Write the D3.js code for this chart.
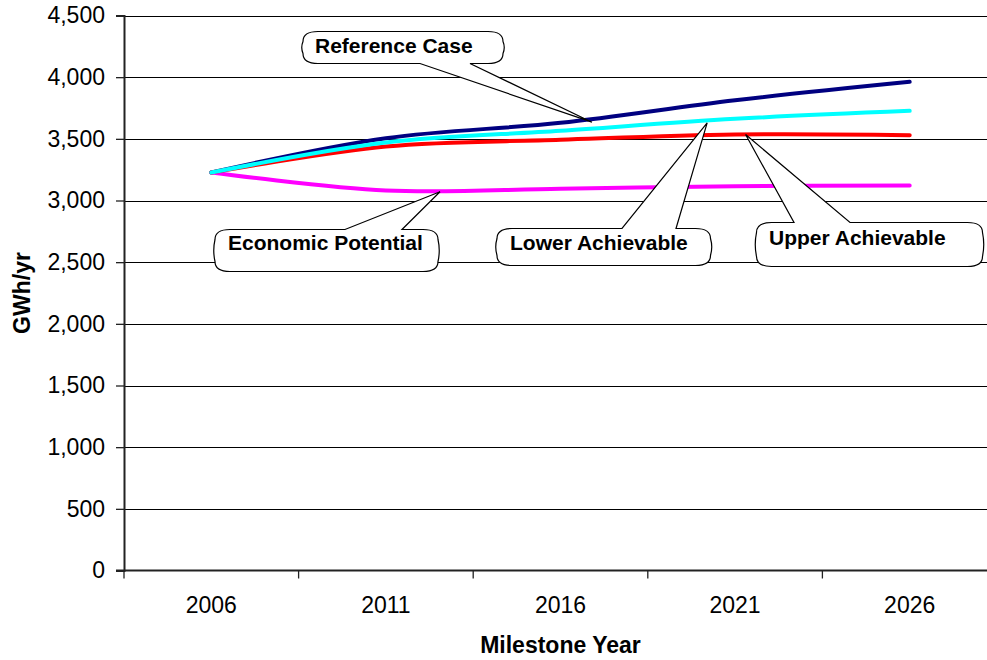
<!DOCTYPE html>
<html>
<head>
<meta charset="utf-8">
<script src="https://cdn.jsdelivr.net/npm/d3@7"></script>
<style>
  html, body { margin: 0; padding: 0; background: #fff; }
  svg { display: block; font-family: "Liberation Sans", Arial, sans-serif; }
</style>
</head>
<body>
<svg id="chart" width="987" height="660"></svg>
<script>
// ---- data ----
const categories = ["2006", "2011", "2016", "2021", "2026"];
const referenceCase     = [3227, 3505, 3630, 3813, 3962];
const economicPotential = [3227, 3081, 3095, 3116, 3122];
const upperAchievable   = [3227, 3438, 3492, 3535, 3530];
const lowerAchievable   = [3227, 3470, 3565, 3662, 3727];
const yTicks = [0, 500, 1000, 1500, 2000, 2500, 3000, 3500, 4000, 4500];
const seriesNames  = ["Reference Case", "Economic Potential", "Upper Achievable", "Lower Achievable"];
const seriesColors = ["#000080", "#ff00ff", "#ff0000", "#00ffff"];
const xTitle = "Milestone Year";
const yTitle = "GWh/yr";
// callout anchors: [year, value] the pointer tip refers to
const calloutTips = [[2016.9, 3635], [2012.55, 3071], [2020.2, 3630], [2021.3, 3535]];

const series = [referenceCase, economicPotential, upperAchievable, lowerAchievable];

// ---- layout ----
const svg = d3.select("#chart");
const pLeft = 124, pRight = 997, pTop = 15.5, pBottom = 570.5;

const x = d3.scaleBand().domain(categories).range([pLeft, pRight]).padding(0);
const bw = x.bandwidth();
const xc = c => x(c) + bw / 2;
const xYear = yr => xc(categories[0]) + (yr - +categories[0]) / 5 * bw;
const y = d3.scaleLinear().domain([0, 4500]).range([pBottom, pTop]);

// gridlines
svg.append("g").selectAll("line").data(yTicks.filter(d => d > 0)).join("line")
  .attr("x1", pLeft).attr("x2", pRight)
  .attr("y1", d => Math.round(y(d)) + 0.5).attr("y2", d => Math.round(y(d)) + 0.5)
  .attr("stroke", "#000").attr("stroke-width", 1);

// y axis
const yAxis = d3.axisLeft(y).tickValues(yTicks).tickFormat(d3.format(",")).tickSize(8).tickPadding(11);
const gy = svg.append("g").attr("transform", `translate(${pLeft},0)`).call(yAxis);
gy.select(".domain").attr("stroke", "#222").attr("stroke-width", 2);
gy.selectAll(".tick line").attr("stroke", "#222").attr("stroke-width", 1.3);
gy.selectAll(".tick text").attr("font-size", 23).attr("fill", "#000")
  .attr("font-family", "Liberation Sans, Arial, sans-serif");

// x axis
svg.append("line").attr("x1", pLeft - 8).attr("x2", pRight).attr("y1", pBottom).attr("y2", pBottom)
  .attr("stroke", "#222").attr("stroke-width", 2);
const xTickPos = categories.map(c => x(c)).concat([pRight]);
svg.append("g").selectAll("line").data(xTickPos).join("line")
  .attr("x1", d => d).attr("x2", d => d).attr("y1", pBottom).attr("y2", pBottom + 8)
  .attr("stroke", "#222").attr("stroke-width", 1.3);
svg.append("g").selectAll("text").data(categories).join("text")
  .attr("x", d => xc(d)).attr("y", 613).attr("text-anchor", "middle")
  .attr("font-size", 23).attr("fill", "#000").text(d => d);

// titles
svg.append("text").attr("x", (pLeft + pRight) / 2).attr("y", 653).attr("text-anchor", "middle")
  .attr("font-size", 23).attr("font-weight", "bold").text(xTitle);
svg.append("text").attr("transform", `translate(30,${(pTop + pBottom) / 2}) rotate(-90)`)
  .attr("text-anchor", "middle").attr("font-size", 23).attr("font-weight", "bold").text(yTitle);

// lines
const line = d3.line().x((d, i) => xc(categories[i])).y(d => y(d)).curve(d3.curveCardinal.tension(0));
svg.append("g").selectAll("path").data(series).join("path")
  .attr("d", d => line(d)).attr("fill", "none")
  .attr("stroke", (d, i) => seriesColors[i]).attr("stroke-width", 4)
  .attr("stroke-linecap", "round").attr("stroke-linejoin", "round");

// callouts
const callouts = [
  { text: seriesNames[0], box: [303, 31.5, 503, 63.5], side: "bottom", base: [420, 470], tip: calloutTips[0], tx: 315, ty: 53 },
  { text: seriesNames[1], box: [215, 229.5, 438, 271.5], side: "top", base: [345, 402], tip: calloutTips[1], tx: 228, ty: 250 },
  { text: seriesNames[3], box: [497, 228.5, 710.5, 265.5], side: "top", base: [622, 676], tip: calloutTips[2], tx: 510, ty: 250 },
  { text: seriesNames[2], box: [756.5, 222.5, 982.5, 266.5], side: "top", base: [794, 850], tip: calloutTips[3], tx: 769, ty: 245 }
];
function calloutPath(c) {
  const [x0, y0, x1, y1] = c.box;
  const r = 15, ry = 10, bow = 2.5;
  const tx = xYear(c.tip[0]), ty = y(c.tip[1]);
  const p = d3.path();
  p.moveTo(x0 + r, y0);
  if (c.side === "top") { p.lineTo(c.base[0], y0); p.lineTo(tx, ty); p.lineTo(c.base[1], y0); }
  p.lineTo(x1 - r, y0);
  p.quadraticCurveTo(x1, y0, x1, y0 + ry);
  p.quadraticCurveTo(x1 + bow, (y0 + y1) / 2, x1, y1 - ry);
  p.quadraticCurveTo(x1, y1, x1 - r, y1);
  if (c.side === "bottom") { p.lineTo(c.base[1], y1); p.lineTo(tx, ty); p.lineTo(c.base[0], y1); }
  p.lineTo(x0 + r, y1);
  p.quadraticCurveTo(x0, y1, x0, y1 - ry);
  p.quadraticCurveTo(x0 - bow, (y0 + y1) / 2, x0, y0 + ry);
  p.quadraticCurveTo(x0, y0, x0 + r, y0);
  p.closePath();
  return p.toString();
}
const cg = svg.append("g").selectAll("g").data(callouts).join("g");
cg.append("path").attr("d", calloutPath).attr("fill", "#fff").attr("stroke", "#000").attr("stroke-width", 1.2);
cg.append("text").attr("x", d => d.tx).attr("y", d => d.ty)
  .attr("font-size", 21).attr("font-weight", "bold").attr("fill", "#000").text(d => d.text);
</script>
</body>
</html>
